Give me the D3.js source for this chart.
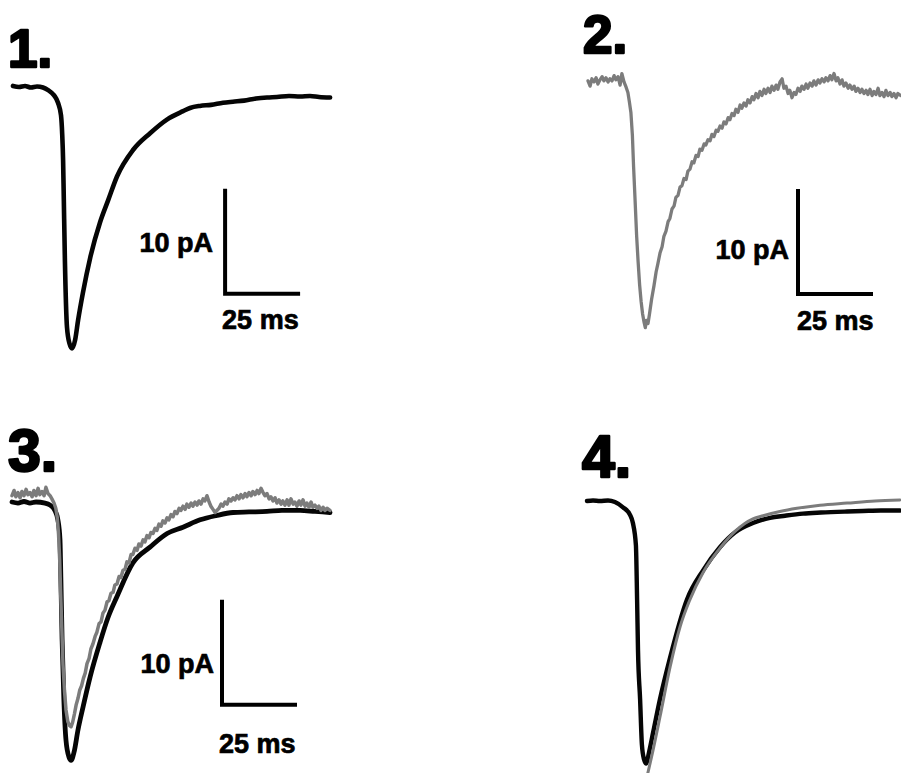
<!DOCTYPE html>
<html>
<head>
<meta charset="utf-8">
<script src="https://cdn.jsdelivr.net/npm/d3@7/dist/d3.min.js"></script>
<style>
  html, body { margin: 0; padding: 0; background: #fff; }
  svg { display: block; }
  text { font-family: "Liberation Sans", Arial, Helvetica, sans-serif; font-weight: bold; fill: #000; }
</style>
</head>
<body>
<svg id="chart" width="901" height="773"></svg>
<script>
// Whole-cell currents: [time (ms), current (pA)], baseline = 0 pA

// 1. Averaged control current
const trace1 = [
  [0,0.1],[2,0],[4,0.1],[6,-0.05],[8,0.05],[10,-0.05],[11.7,-0.3],[13.7,-0.8],[15,-1.5],[16,-2.7],
  [16.4,-4.5],[16.7,-7.0],[16.9,-10.1],[17.3,-16.5],[18,-22.9],[18.8,-24.4],[19.7,-24.9],[20.7,-24.1],
  [21.7,-22.2],[23.3,-19.6],[25.7,-16.3],[29,-12.9],[31.7,-10.8],[34.7,-8.5],[40,-6.0],[45.7,-4.4],
  [51.3,-3.1],[56.7,-2.3],[59,-2.0],[62.3,-1.8],[66,-1.7],[70,-1.5],[73.3,-1.4],[77,-1.3],[81,-1.1],
  [84.7,-1.0],[88,-0.95],[92,-0.85],[95.7,-0.9],[99,-0.85],[102,-0.95],[105.7,-1.0]
];

// 2. Single test-condition current (gray)
const trace2 = [
  [0,0.2],[0.7,-0.3],[1.3,0.4],[2,0.1],[2.7,0.5],[3.3,-0.1],[4,0.3],[4.7,0.6],[5.3,0.2],[6,0.5],
  [6.7,0.1],[7.3,0.4],[8,0.2],[8.7,0.7],[9.3,0.3],[10,0.6],[10.7,-0.2],[11.3,0.9],[12,0.1],[12.7,-0.4],
  [13.3,-0.9],[13.8,-1.8],[14.3,-2.8],[14.8,-5],[15.2,-8],[15.7,-11.2],[16.2,-14.5],[16.7,-17],
  [17.2,-19.2],[17.7,-20.8],[18.2,-22],[18.7,-22.8],[19.1,-23.3],[19.5,-22.6],[20,-22.9],[20.5,-22],
  [21.2,-20.6],[22,-19.3],[22.7,-18],[23.3,-17.2],[24,-16.2],[24.7,-15.6],[25.3,-14.6],[26,-14.1],
  [26.7,-13.2],[27.3,-12.9],[28,-12],[28.7,-11.7],[29.3,-10.9],[30,-10.7],[30.7,-9.9],[31.3,-9.8],
  [32,-9.1],[32.7,-9.2],[33.3,-8.4],[34,-8.2],[34.7,-7.5],[35.3,-7.6],[36,-6.9],[36.7,-7.0],[37.3,-6.3],
  [38,-6.4],[38.7,-5.8],[39.3,-5.9],[40,-5.4],[40.7,-5.5],[41.3,-4.9],[42,-5.1],[42.7,-4.5],[43.3,-4.6],
  [44,-4.1],[44.7,-4.3],[45.3,-3.7],[46,-3.9],[46.7,-3.3],[47.3,-3.5],[48,-2.9],[48.7,-3.1],[49.3,-2.5],
  [50,-2.8],[50.7,-2.1],[51.3,-2.4],[52,-1.9],[52.7,-2.2],[53.3,-1.6],[54,-1.9],[54.7,-1.3],[55.3,-1.6],
  [56,-1.0],[56.7,-1.4],[57.3,-0.8],[58,-1.2],[58.7,-0.6],[59.3,-1.0],[60,-0.5],[60.7,-0.9],[61.3,-0.3],
  [62,-0.7],[62.7,-0.2],[63.3,-0.6],[64,0.1],[64.7,0.4],[65.3,-0.5],[66,-0.3],[66.7,-1.0],[67.3,-0.7],
  [68,-1.4],[68.7,-0.9],[69.3,-1.1],[70,-0.5],[70.7,-0.8],[71.3,-0.3],[72,-0.6],[72.7,-0.1],[73.3,-0.5],
  [74,0],[74.7,-0.3],[75.3,0.2],[76,-0.2],[76.7,0.3],[77.3,0],[78,0.4],[78.7,0.1],[79.3,0.5],[80,0.2],
  [80.7,0.7],[81.3,0.3],[82,0.9],[82.7,0.2],[83.3,0.5],[84,-0.1],[84.7,0.3],[85.3,-0.3],[86,0],
  [86.7,-0.5],[87.3,-0.2],[88,-0.6],[88.7,-0.3],[89.3,-0.8],[90,-0.5],[90.7,-0.9],[91.3,-0.6],[92,-1.0],
  [92.7,-0.7],[93.3,-1.1],[94,-0.6],[94.7,-1.2],[95.3,-0.8],[96,-1.1],[96.7,-0.5],[97.3,-1.2],[98,-0.9],
  [98.7,-1.3],[99.3,-0.7],[100,-1.2],[100.7,-0.9],[101.3,-1.3],[102,-1.0],[102.7,-1.4],[103.3,-1.0],
  [104.3,-1.2]
];

// 3. Control (black) overlaid with test condition (gray)
const trace3Control = [
  [0,0],[2,-0.1],[4,0.05],[6,-0.1],[8,0],[11,-0.1],[12.7,-0.3],[14.3,-0.8],[15.3,-1.7],[16,-3.6],
  [16.3,-7.4],[16.7,-13.1],[17.3,-18.9],[18,-22.7],[19,-24.3],[19.7,-24.6],[20.7,-23.8],[22,-21.7],
  [23.7,-19.5],[26,-16.7],[29.3,-13.4],[32,-11],[35,-9.0],[40.3,-5.8],[46,-4.3],[51.7,-3.0],[57,-2.4],
  [62.7,-1.7],[68,-1.3],[73.7,-1.0],[79,-0.95],[85,-0.9],[90,-0.8],[96,-0.8],[101,-0.9],[106,-1.0]
];
const trace3Test = [
  [0,0.6],[0.7,1.1],[1.3,0.5],[2,0.9],[2.7,0.4],[3.3,1.0],[4,0.6],[4.7,1.2],[5.3,0.7],[6,0.9],
  [6.7,0.5],[7.3,1.1],[8,0.6],[8.7,1.3],[9.3,0.7],[10,1.0],[10.7,0.6],[11.3,1.4],[12,0.8],[12.7,0.6],
  [13.3,0.3],[14,-0.1],[14.6,-0.6],[15.1,-1.5],[15.5,-3],[15.9,-5.5],[16.2,-8.5],[16.6,-12],[17,-15.5],
  [17.5,-18],[18,-19.8],[18.6,-20.9],[19.2,-21.3],[19.7,-21.4],[20.2,-21],[20.8,-20.2],[21.4,-19.3],
  [22,-18.7],[22.6,-17.9],[23.2,-17.5],[23.8,-16.8],[24.4,-16.3],[25,-15.4],[25.7,-14.9],[26.3,-14.0],
  [27,-13.5],[27.7,-12.8],[28.3,-12.4],[29,-11.6],[29.7,-11.4],[30.3,-10.6],[31,-10.3],[31.7,-9.5],
  [32.3,-9.4],[33,-8.7],[33.7,-8.6],[34.3,-7.9],[35,-7.8],[35.7,-7.1],[36.3,-7.2],[37,-6.5],[37.7,-6.4],
  [38.3,-5.7],[39,-5.8],[39.7,-5.0],[40.3,-5.0],[41,-4.4],[41.7,-4.6],[42.3,-4.0],[43,-4.2],[43.7,-3.6],
  [44.3,-3.8],[45,-3.2],[45.7,-3.4],[46.3,-2.9],[47,-3.0],[47.7,-2.5],[48.3,-2.7],[49,-2.1],[49.7,-2.3],
  [50.3,-1.8],[51,-2.0],[51.7,-1.5],[52.3,-1.7],[53,-1.2],[53.7,-1.4],[54.3,-0.9],[55,-1.1],[55.7,-0.6],
  [56.3,-0.8],[57,-0.4],[57.7,-0.7],[58.3,-0.2],[59,-0.5],[59.7,-0.1],[60.3,-0.4],[61,0],[61.7,-0.3],
  [62.3,0.1],[63,-0.2],[63.7,0.3],[64.3,0.1],[65,0.6],[65.7,0],[66.3,-0.4],[67,-0.7],[67.7,-1.0],
  [68.3,-0.8],[69,-0.6],[69.7,-0.2],[70.3,-0.4],[71,0],[71.7,-0.2],[72.3,0.3],[73,0.1],[73.7,0.4],
  [74.3,0.2],[75,0.6],[75.7,0.3],[76.3,0.7],[77,0.4],[77.7,0.8],[78.3,0.5],[79,0.9],[79.7,0.6],[80.3,1.0],
  [81,0.7],[81.7,1.1],[82.3,0.8],[83,1.3],[83.7,0.9],[84.3,0.6],[85,0.8],[85.7,0.3],[86.3,0.5],[87,0.1],
  [87.7,0.4],[88.3,-0.1],[89,0.2],[89.7,-0.2],[90.3,0.1],[91,-0.3],[91.7,0.2],[92.3,-0.3],[93,0.3],
  [93.7,-0.2],[94.3,0],[95,-0.4],[95.7,0.1],[96.3,-0.3],[97,0.2],[97.7,-0.4],[98.3,-0.1],[99,-0.5],
  [99.7,0],[100.3,-0.5],[101,-0.3],[101.7,-0.6],[102.3,-0.4],[103,-0.8],[103.7,-0.5],[104.3,-0.8],
  [105,-0.6],[106,-0.8]
];

// 4. Averaged current (black) with exponential decay fit (gray)
const trace4Current = [
  [0,0],[2,0.05],[4.3,0],[7,0.05],[9.3,-0.1],[12,-0.6],[14.3,-1.3],[15.3,-2.1],[16.3,-4.2],[16.7,-9.4],
  [17,-14.2],[17.7,-18.9],[18.3,-23.2],[19,-24.6],[19.7,-25],[20.7,-23.9],[22,-22.1],[24.3,-18.9],
  [27.7,-14.9],[33.3,-9.4],[38.7,-6.6],[44.3,-4.4],[49.3,-3.0],[55.3,-2.1],[61,-1.6],[66,-1.4],[72,-1.2],
  [78,-1.1],[86.7,-1.0],[92,-0.95],[98,-0.9],[104.3,-0.9]
];
const trace4Fit = [
  [19.8,-26.5],[21.5,-24.4],[24.3,-20.6],[27.7,-15.8],[31,-12],[34.3,-9.4],[38.7,-6.8],[44.3,-4.5],
  [49.7,-2.8],[55.3,-1.7],[58.7,-1.4],[64.3,-1.0],[70,-0.7],[77.7,-0.4],[86.7,-0.2],[96,0],[104.3,0.1]
];

// Scale-bar sizes and panel labels
const scaleBarTime = 25;     // ms
const scaleBarCurrent = 10;  // pA
const scaleBarTimeLabel = "25 ms";
const scaleBarCurrentLabel = "10 pA";
const panelLabels = ["1.", "2.", "3.", "4."];

const BLACK = "#050505";
const GRAY = "#7c7c7c";

// Panel layout: origin of (0 ms, 0 pA) and drawing details
const pxPerMs = 3.0;
const pxPerPA = 10.5;
const panels = [
  { label: panelLabels[0], x0: 13, y0: 87, labelX: 8, labelY: 67, labelSize: 53,
    traces: [{ data: trace1, color: BLACK, width: 4.6 }],
    bar: { t: 70.7, i: -19.7, pA: [-12, -42], ms: [-3, 35] } },
  { label: panelLabels[1], x0: 588, y0: 83, labelX: 583, labelY: 53, labelSize: 53,
    traces: [{ data: trace2, color: GRAY, width: 3.3, linear: true }],
    bar: { t: 70, i: -20.1, pA: [-9, -35], ms: [-1, 36] } },
  { label: panelLabels[2], x0: 12, y0: 502, labelX: 8, labelY: 471, labelSize: 59,
    traces: [{ data: trace3Control, color: BLACK, width: 4.8 },
             { data: trace3Test, color: GRAY, width: 3.5, linear: true }],
    bar: { t: 70, i: -19.3, pA: [-8, -32], ms: [-3, 48] } },
  { label: panelLabels[3], x0: 587, y0: 501, labelX: 582, labelY: 477, labelSize: 59,
    traces: [{ data: trace4Current, color: BLACK, width: 4.4 },
             { data: trace4Fit, color: GRAY, width: 3.0 }],
    bar: null }
];

const svg = d3.select("#chart");
svg.append("rect").attr("width", 901).attr("height", 773).attr("fill", "#fff");

panels.forEach(p => {
  const x = d3.scaleLinear().domain([0, 110]).range([p.x0, p.x0 + 110 * pxPerMs]);
  const y = d3.scaleLinear().domain([0, -30]).range([p.y0, p.y0 + 30 * pxPerPA]);
  const g = svg.append("g");

  p.traces.forEach(tr => {
    const line = d3.line()
      .x(d => x(d[0]))
      .y(d => y(d[1]))
      .curve(tr.linear ? d3.curveLinear : d3.curveMonotoneX);
    g.append("path")
      .datum(tr.data)
      .attr("d", line)
      .attr("fill", "none")
      .attr("stroke", tr.color)
      .attr("stroke-width", tr.width)
      .attr("stroke-linejoin", "round")
      .attr("stroke-linecap", "round");
  });

  if (p.bar) {
    const b = p.bar;
    const cx = x(b.t), cy = y(b.i);
    g.append("path")
      .attr("d", d3.line()([
        [x(b.t), y(b.i + scaleBarCurrent)],
        [cx, cy],
        [x(b.t + scaleBarTime), cy]
      ]))
      .attr("fill", "none")
      .attr("stroke", "#000")
      .attr("stroke-width", 4)
      .attr("stroke-linejoin", "miter");
    g.append("text")
      .attr("x", cx + b.pA[0]).attr("y", cy + b.pA[1])
      .attr("text-anchor", "end")
      .attr("font-size", 27)
      .attr("stroke", "#000")
      .attr("stroke-width", 0.7)
      .text(scaleBarCurrentLabel);
    g.append("text")
      .attr("x", cx + b.ms[0]).attr("y", cy + b.ms[1])
      .attr("font-size", 27)
      .attr("stroke", "#000")
      .attr("stroke-width", 0.7)
      .text(scaleBarTimeLabel);
  }

  g.append("text")
    .attr("x", p.labelX).attr("y", p.labelY)
    .attr("font-size", p.labelSize)
    .attr("stroke", "#000")
    .attr("stroke-width", 2.5)
    .attr("stroke-linejoin", "round")
    .text(p.label);
});
</script>
</body>
</html>
